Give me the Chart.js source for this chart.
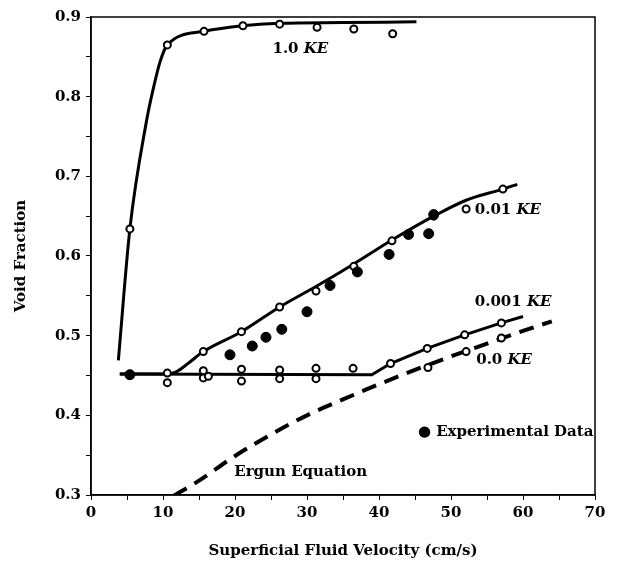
<!DOCTYPE html>
<html>
<head>
<meta charset="utf-8">
<script src="https://cdn.jsdelivr.net/npm/chart.js@4.4.1/dist/chart.umd.min.js"></script>
<style>
  html, body { margin: 0; padding: 0; background: #fff; }
  #wrap { width: 620px; height: 563px; }
</style>
</head>
<body>
<div id="wrap"><canvas id="voidChart"></canvas></div>
<script>
// model curves: superficial velocity (cm/s) vs void fraction
const ke1X = [3.8, 5.4, 7.7, 8.65, 9.6, 10.6, 15.7, 21.1, 26.2, 35, 45.2];
const ke1Y = [0.469, 0.634, 0.769, 0.81, 0.844, 0.865, 0.882, 0.889, 0.892, 0.893, 0.894];
const ke01X = [4, 10.5, 11.9, 13.6, 15.6, 20.9, 26.2, 31.3, 36.5, 41.8, 47.6, 52.1, 57.2, 59.2];
const ke01Y = [0.452, 0.452, 0.455, 0.466, 0.480, 0.505, 0.536, 0.562, 0.590, 0.620, 0.650, 0.670, 0.684, 0.690];
const ke001X = [4, 39, 41.6, 46.7, 51.9, 57.0, 60.0];
const ke001Y = [0.452, 0.451, 0.465, 0.484, 0.501, 0.516, 0.524];
const ergunX = [11.5, 15, 20, 25, 30, 35, 40, 45, 50, 55, 60, 64];
const ergunY = [0.299, 0.318, 0.349, 0.376, 0.400, 0.420, 0.439, 0.457, 0.474, 0.490, 0.506, 0.518];

// simulated points (open circles)
const sim1X = [5.4, 10.6, 15.7, 21.1, 26.2, 31.4, 36.5, 41.9];
const sim1Y = [0.634, 0.865, 0.882, 0.889, 0.891, 0.887, 0.885, 0.879];
const sim01X = [15.6, 20.9, 26.2, 31.25, 36.5, 41.8, 47.6, 52.1, 57.2];
const sim01Y = [0.480, 0.505, 0.536, 0.556, 0.587, 0.619, 0.650, 0.659, 0.684];
const simLowX = [10.6, 10.6, 15.6, 15.6, 16.3, 20.9, 20.9, 26.2, 26.2, 31.25, 31.25, 36.4];
const simLowY = [0.453, 0.441, 0.456, 0.447, 0.449, 0.458, 0.443, 0.457, 0.446, 0.459, 0.446, 0.459];
const sim001X = [41.6, 46.7, 51.9, 57.0];
const sim001Y = [0.465, 0.484, 0.501, 0.516];
const sim0X = [46.8, 52.1, 57.0];
const sim0Y = [0.460, 0.480, 0.497];

// experimental data (filled dots)
const expX = [5.4, 19.3, 22.4, 24.3, 26.5, 30.0, 33.2, 37.0, 41.4, 44.1, 46.9, 47.6];
const expY = [0.451, 0.476, 0.487, 0.498, 0.508, 0.530, 0.563, 0.580, 0.602, 0.627, 0.628, 0.652];

// text labels placed in data coordinates: [text, italic part, x, y]
const notes = [
  ['1.0 ', 'KE', 25.2, 0.860],
  ['0.01 ', 'KE', 53.3, 0.657],
  ['0.001 ', 'KE', 53.3, 0.542],
  ['0.0 ', 'KE', 53.5, 0.469],
  ['Ergun Equation', '', 19.9, 0.329],
  ['\u25CF Experimental Data', '', 45.4, 0.379]
];

const FONT = "'DejaVu Serif', serif";

function pts(xs, ys) {
  return xs.map((x, i) => ({ x: x, y: ys[i] }));
}

function lineSet(xs, ys, dashed, smooth) {
  return {
    data: pts(xs, ys),
    showLine: true,
    borderColor: '#000',
    borderWidth: dashed ? 4 : 3,
    borderDash: dashed ? [15, 9] : [],
    pointRadius: 0,
    cubicInterpolationMode: smooth ? 'monotone' : 'default',
    tension: 0,
    order: 3
  };
}

function openSet(xs, ys) {
  return {
    data: pts(xs, ys),
    pointRadius: 3.5,
    pointBorderWidth: 2,
    pointBorderColor: '#000',
    pointBackgroundColor: '#fff',
    order: 2
  };
}

const boxAndNotes = {
  id: 'boxAndNotes',
  afterDatasetsDraw(chart) {
    const { ctx, chartArea: a, scales } = chart;
    ctx.save();
    ctx.strokeStyle = '#000';
    ctx.lineWidth = 1.5;
    ctx.strokeRect(a.left, a.top, a.right - a.left, a.bottom - a.top);
    ctx.fillStyle = '#000';
    ctx.textBaseline = 'middle';
    notes.forEach(n => {
      let px = scales.x.getPixelForValue(n[2]);
      const py = scales.y.getPixelForValue(n[3]);
      ctx.font = 'bold 15px ' + FONT;
      ctx.fillText(n[0], px, py);
      if (n[1]) {
        px += ctx.measureText(n[0]).width;
        ctx.font = 'italic bold 15px ' + FONT;
        ctx.fillText(n[1], px, py);
      }
    });
    ctx.restore();
  }
};

new Chart(document.getElementById('voidChart'), {
  type: 'scatter',
  data: {
    datasets: [
      {
        data: pts(expX, expY),
        pointRadius: 5,
        pointBackgroundColor: '#000',
        pointBorderColor: '#000',
        pointBorderWidth: 1,
        order: 1
      },
      openSet(sim1X, sim1Y),
      openSet(sim01X, sim01Y),
      openSet(simLowX, simLowY),
      openSet(sim001X, sim001Y),
      openSet(sim0X, sim0Y),
      lineSet(ke1X, ke1Y, false, true),
      lineSet(ke01X, ke01Y, false, true),
      lineSet(ke001X, ke001Y, false, false),
      lineSet(ergunX, ergunY, true, true)
    ]
  },
  options: {
    responsive: true,
    maintainAspectRatio: false,
    animation: false,
    layout: { padding: { top: 17, right: 25, left: 0, bottom: 0 } },
    plugins: { legend: { display: false }, tooltip: { enabled: false } },
    scales: {
      x: {
        type: 'linear',
        min: 0,
        max: 70,
        afterFit(s) { s.height = 68; },
        border: { color: '#000', width: 1.5 },
        grid: { drawOnChartArea: false, color: '#000', tickLength: 5 },
        ticks: {
          stepSize: 5,
          maxRotation: 0,
          autoSkip: false,
          padding: 4,
          color: '#000',
          font: { family: FONT, size: 15, weight: 'bold' },
          callback: v => (v % 10 === 0 ? v : '')
        },
        title: {
          display: true,
          text: 'Superficial Fluid Velocity (cm/s)',
          color: '#000',
          font: { family: FONT, size: 15, weight: 'bold' },
          padding: { top: 0, bottom: 3 }
        }
      },
      y: {
        type: 'linear',
        min: 0.3,
        max: 0.9,
        afterFit(s) { s.width = 91; },
        border: { color: '#000', width: 1.5 },
        grid: { drawOnChartArea: false, color: '#000', tickLength: 5 },
        ticks: {
          stepSize: 0.05,
          autoSkip: false,
          padding: 5,
          color: '#000',
          font: { family: FONT, size: 15, weight: 'bold' },
          callback: v => (Math.round(v * 100) % 10 === 0 ? v.toFixed(1) : '')
        },
        title: {
          display: true,
          text: 'Void Fraction',
          color: '#000',
          font: { family: FONT, size: 15, weight: 'bold' },
          padding: { top: 12, bottom: 0 }
        }
      }
    }
  },
  plugins: [boxAndNotes]
});
</script>
</body>
</html>
